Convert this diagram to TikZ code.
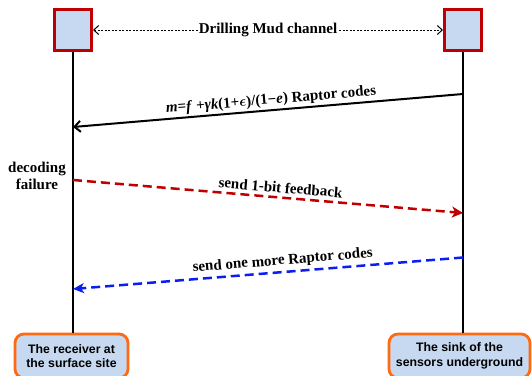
\documentclass[tikz,border=0pt]{standalone}
\usepackage{fontspec}
\setmainfont{Liberation Serif}
\setsansfont{Liberation Sans}
\usepackage{xcolor}
\usepackage{tikz}
\usetikzlibrary{arrows.meta, positioning}

\definecolor{actred}{HTML}{C00000}
\definecolor{actfill}{HTML}{C6D9F0}
\definecolor{siteorange}{HTML}{FF6A10}
\definecolor{fbred}{HTML}{C00000}
\definecolor{morblue}{HTML}{0A1EF0}

\begin{document}
\begin{tikzpicture}[x=1pt,y=-1pt,
  actor/.style={draw=actred,fill=actfill,line width=3pt,
                minimum width=37pt,minimum height=41pt,inner sep=0pt},
  site/.style={draw=siteorange,fill=actfill,line width=2.8pt,rounded corners=9pt,
               minimum height=44pt,align=center,inner sep=2pt,
               font=\fontsize{12.3}{14.5}\selectfont\sffamily\bfseries},
  lbl/.style={font=\fontsize{15}{17}\selectfont\bfseries,inner sep=2pt},
  life/.style={line width=1.5pt},
  chan/.style={{Straight Barb[length=5pt,width=9pt]}-{Straight Barb[length=5pt,width=9pt]},
               line width=1pt,dash pattern=on 2pt off 1.5pt},
  msg/.style={-{Straight Barb[length=6pt,width=11pt]},line width=2pt},
  fb/.style={-{Stealth[length=11pt,width=11pt,inset=3pt]},line width=2.5pt,
             draw=fbred,dash pattern=on 9pt off 5pt},
  more/.style={-{Stealth[length=11pt,width=10pt,inset=3pt]},line width=2.5pt,
               draw=morblue,dash pattern=on 9pt off 5pt}
]
  \useasboundingbox (0,0) rectangle (532,375);

  \node[actor] (recv) at (73,30) {};
  \node[actor] (sink) at (463,30) {};
  \node[site,minimum width=113pt] (recvsite) at (71.5,356)
       {The receiver at\\the surface site};
  \node[site,minimum width=141pt] (sinksite) at (459.5,356)
       {The sink of the\\sensors underground};

  % lifelines
  \draw[life] (recv.south) -- (recv.south |- recvsite.north);
  \draw[life] (sink.south) -- (sink.south |- sinksite.north);

  % channel
  \draw[chan] (recv.east) -- node[lbl,fill=white,inner sep=1pt]{Drilling Mud channel} (sink.west);

  \coordinate (s1) at (463,94);
  \coordinate (r1) at (73,127);
  \coordinate (r2) at (73,180);
  \coordinate (s2) at (463,213);
  \coordinate (s3) at (463,257.5);
  \coordinate (r3) at (73,289);

  % Raptor codes
  \draw[msg] (s1) -- node[lbl,sloped,above,pos=0.49]
             {\textit{m}=\textit{f} +\textit{γk}(1+{\boldmath$\epsilon$})/(1−\textit{e}) Raptor codes} (r1);
  % feedback
  \node[lbl,align=center] (fail) at (37,176) {decoding\\failure};
  \draw[fb] (r2) -- node[lbl,sloped,above,pos=0.53,inner sep=3.5pt]{send 1-bit feedback} (s2);
  % one more
  \draw[more] (s3) -- node[lbl,sloped,above,pos=0.46,inner sep=3pt]{send one more Raptor codes} (r3);
\end{tikzpicture}
\end{document}
